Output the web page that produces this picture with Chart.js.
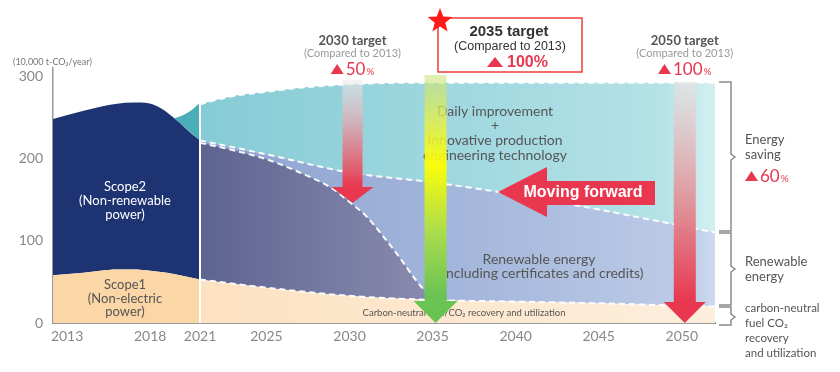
<!DOCTYPE html>
<html>
<head>
<meta charset="utf-8">
<script src="https://cdn.jsdelivr.net/npm/chart.js@4/dist/chart.umd.min.js"></script>
<style>
  html, body { margin: 0; padding: 0; background: #fff; }
</style>
</head>
<body>
<canvas id="chart" width="840" height="372"></canvas>
<script>
// ---------- DATA ----------
const xTicks = [2013, 2018, 2021, 2025, 2030, 2035, 2040, 2045, 2050];
const yTicks = [0, 100, 200, 300];

// actuals FY2013-2021 (first point sits on the axis start)
const pastYears = [2012.15, 2014, 2015, 2016, 2017, 2018, 2019, 2020, 2021];
const scope1 = [58, 61, 63.5, 65, 65, 63.5, 61, 57, 53];
const scope2Years = [2012.15, 2014, 2015, 2016, 2017, 2017.9, 2021];
const scope2 = [248, 258, 263, 266.5, 268, 267, 222];
const tealYears = [2019.3, 2020, 2020.5, 2021];
const tealEarly = [248, 253, 259, 268];

// roadmap 2021-2052
const futureYears = [2021, 2025, 2030, 2035, 2040, 2045, 2050, 2052];
const cnFuel = [53, 43, 33, 28, 26, 24, 21, 20];
const renewable = [222, 205, 183, 171, 156, 138, 118, 110];
const curveYears = [2021, 2023, 2025, 2027, 2029, 2030, 2031, 2032, 2033, 2034, 2035];
const remaining = [219, 210, 199, 183, 163, 147, 130, 106, 80, 52, 28];
const topYears = [2021, 2023, 2025, 2027, 2029, 2031, 2033, 2052];
const saving = [266, 276, 281, 286, 289, 291, 292, 292];

const targetYears = [2030, 2035, 2050];
const targetCuts = ['50', '100', '100'];

// ---------- HELPERS ----------
const GS = 'Lato, "Open Sans", sans-serif';
const AR = '"Liberation Sans", Arial, sans-serif';
const RED = '#e8374e';

function pts(xs, ys) {
  return xs.map((x, i) => ({ x: x, y: ys[i] }));
}

function hGrad(stops, fallback) {
  return (c) => {
    const chart = c.chart;
    if (!chart.chartArea || !chart.scales.x) return fallback;
    const sx = chart.scales.x;
    const g = chart.ctx.createLinearGradient(sx.getPixelForValue(2021), 0, sx.getPixelForValue(2052), 0);
    stops.forEach(s => g.addColorStop(s[0], s[1]));
    return g;
  };
}

function area(xs, ys, fill, bg, order, dashed) {
  return {
    data: pts(xs, ys),
    fill: fill,
    backgroundColor: bg,
    borderColor: dashed ? 'rgba(255,255,255,0.95)' : 'rgba(0,0,0,0)',
    borderWidth: dashed ? 2 : 0,
    borderDash: dashed ? [6, 4] : [],
    pointRadius: 0,
    cubicInterpolationMode: 'monotone',
    order: order
  };
}

// ---------- ANNOTATIONS ----------
function text(ctx, str, px, py, font, color, align) {
  ctx.font = font;
  ctx.fillStyle = color;
  ctx.textAlign = align || 'center';
  ctx.textBaseline = 'middle';
  ctx.fillText(str, px, py);
}

function triangle(ctx, left, cy, w, h, color) {
  ctx.fillStyle = color;
  ctx.beginPath();
  ctx.moveTo(left, cy + h / 2);
  ctx.lineTo(left + w / 2, cy - h / 2);
  ctx.lineTo(left + w, cy + h / 2);
  ctx.closePath();
  ctx.fill();
}

// "▲50%" style label, centred on cx (or left-aligned if left=true)
function cut(ctx, num, cx, cy, left) {
  ctx.font = '17px ' + GS;
  const wn = ctx.measureText(num).width;
  ctx.font = '10px ' + GS;
  const wp = ctx.measureText('%').width;
  const total = 13 + 2 + wn + 1 + wp;
  let x0 = left ? cx : cx - total / 2;
  triangle(ctx, x0, cy - 1, 13, 10, RED);
  text(ctx, num, x0 + 15, cy, '17px ' + GS, RED, 'left');
  text(ctx, '%', x0 + 16 + wn, cy + 2, '10px ' + GS, RED, 'left');
}

function vArrow(ctx, cx, yTop, yHead, yTip, shaftW, headW, stops, headColor) {
  const g = ctx.createLinearGradient(0, yTop, 0, yHead);
  stops.forEach(s => g.addColorStop(s[0], s[1]));
  ctx.fillStyle = g;
  ctx.fillRect(cx - shaftW / 2, yTop, shaftW, yHead - yTop);
  ctx.fillStyle = headColor;
  ctx.beginPath();
  ctx.moveTo(cx - headW / 2, yHead);
  ctx.lineTo(cx + headW / 2, yHead);
  ctx.lineTo(cx, yTip);
  ctx.closePath();
  ctx.fill();
}

function bracket(ctx, yTop, yBot, yMid) {
  const x0 = 719, xv = 731;
  ctx.strokeStyle = '#8a8a8a';
  ctx.lineWidth = 1.5;
  ctx.beginPath();
  ctx.moveTo(x0, yTop);
  ctx.lineTo(xv, yTop);
  ctx.lineTo(xv, yMid - 3);
  ctx.lineTo(xv + 4, yMid);
  ctx.lineTo(xv, yMid + 3);
  ctx.lineTo(xv, yBot);
  ctx.lineTo(x0, yBot);
  ctx.stroke();
}

function star(ctx, cx, cy, ro, ri, color) {
  ctx.fillStyle = color;
  ctx.beginPath();
  for (let i = 0; i < 10; i++) {
    const r = i % 2 === 0 ? ro : ri;
    const a = -Math.PI / 2 + i * Math.PI / 5;
    const px = cx + r * Math.cos(a), py = cy + r * Math.sin(a);
    if (i === 0) ctx.moveTo(px, py); else ctx.lineTo(px, py);
  }
  ctx.closePath();
  ctx.fill();
}

const annotations = {
  id: 'annotations',
  afterDatasetsDraw(chart) {
    const { ctx, scales: { x, y } } = chart;
    ctx.save();

    // unit label
    text(ctx, '(10,000 t-CO\u2082/year)', 13, 62, '9px ' + GS, '#777', 'left');

    // scope texts
    ['Scope2', '(Non-renewable', 'power)'].forEach((s, i) =>
      text(ctx, s, 125, 187 + i * 14, '13px ' + GS, '#fff'));
    ['Scope1', '(Non-electric', 'power)'].forEach((s, i) =>
      text(ctx, s, 125, 285 + i * 13.5, '13px ' + GS, '#555'));

    // region texts
    ['Daily improvement', '+', 'Innovative production', 'engineering technology'].forEach((s, i) =>
      text(ctx, s, 495, 111 + i * 14.7, '14px ' + GS, '#555'));
    text(ctx, 'Renewable energy', 539, 259, '14px ' + GS, '#555');
    text(ctx, '(Including certificates and credits)', 541, 273, '14px ' + GS, '#555');
    text(ctx, 'Carbon-neutral fuel/CO\u2082 recovery and utilization', 464, 313, '9.5px ' + GS, '#555');

    // target arrows
    const xa = targetYears.map(v => x.getPixelForValue(v) + 3);
    const y0 = y.getPixelForValue(0);
    vArrow(ctx, xa[0], 80, 187, 203, 20, 42,
      [[0, 'rgba(235,235,235,0.55)'], [0.5, 'rgba(222,150,160,0.85)'], [1, RED]], RED);
    vArrow(ctx, xa[1], 75, y0 - 22, y0, 22, 44,
      [[0, 'rgba(200,225,120,0.55)'], [0.18, 'rgba(225,238,80,0.8)'], [0.4, 'rgba(255,255,0,0.95)'],
       [0.7, 'rgba(170,222,70,0.95)'], [1, 'rgba(98,194,77,0.95)']], 'rgba(98,194,77,0.95)');
    vArrow(ctx, xa[2], 82, y0 - 21, y0, 22, 42,
      [[0, 'rgba(228,228,228,0.7)'], [0.5, 'rgba(226,150,155,0.9)'], [1, RED]], RED);

    // moving forward arrow
    ctx.fillStyle = '#e9374f';
    ctx.beginPath();
    ctx.moveTo(498, 192);
    ctx.lineTo(547, 167);
    ctx.lineTo(547, 181);
    ctx.lineTo(655, 181);
    ctx.lineTo(655, 205);
    ctx.lineTo(547, 205);
    ctx.lineTo(547, 217);
    ctx.closePath();
    ctx.fill();
    text(ctx, 'Moving forward', 583, 193, 'bold 16px ' + AR, '#fff');

    // 2030 / 2050 targets
    [0, 2].forEach(i => {
      text(ctx, targetYears[i] + ' target', xa[i], 41, 'bold 13px ' + GS, '#555');
      text(ctx, '(Compared to 2013)', xa[i], 53, '11px ' + GS, '#999');
      cut(ctx, targetCuts[i], xa[i], 70);
    });

    // 2035 target box
    ctx.strokeStyle = '#f03c3c';
    ctx.lineWidth = 1.5;
    ctx.strokeRect(438, 18, 144, 54);
    text(ctx, targetYears[1] + ' target', 509, 32, 'bold 15px ' + AR, '#333');
    text(ctx, '(Compared to 2013)', 510, 47, '12.5px ' + AR, '#333');
    triangle(ctx, 487, 62, 16, 10, RED);
    text(ctx, targetCuts[1] + '%', 507, 63, 'bold 16px ' + AR, RED, 'left');
    star(ctx, 440, 21, 13, 5.5, '#ff1a1a');

    // right-hand brackets
    bracket(ctx, 82, 231, 157);
    bracket(ctx, 233, 305, 269);
    bracket(ctx, 307, 325, 317);
    text(ctx, 'Energy', 745, 140, '13px ' + GS, '#555', 'left');
    text(ctx, 'saving', 745, 155, '13px ' + GS, '#555', 'left');
    cut(ctx, '60', 745, 177, true);
    text(ctx, 'Renewable', 745, 262, '13px ' + GS, '#555', 'left');
    text(ctx, 'energy', 745, 277, '13px ' + GS, '#555', 'left');
    ['carbon-neutral', 'fuel CO\u2082', 'recovery', 'and utilization'].forEach((s, i) =>
      text(ctx, s, 745, 308 + i * 15, '11.5px ' + GS, '#555', 'left'));

    ctx.restore();
  }
};

// ---------- CHART ----------
new Chart(document.getElementById('chart').getContext('2d'), {
  type: 'line',
  data: {
    datasets: [
      area(pastYears, scope1, 'origin', '#fbd6a6', 0, false),
      area(scope2Years, scope2, 0, '#1d3372', 1, false),
      area(tealYears, tealEarly, 1, '#4aaeba', 2, false),
      area(futureYears, cnFuel, 'origin',
        hGrad([[0, '#fde2c2'], [1, '#fdeedd']], '#fde6c8'), 3, true),
      area(futureYears, renewable, 3,
        hGrad([[0, '#8ca2cf'], [0.5, '#a3b6db'], [0.95, '#bccbe6'], [1, '#cfdaee']], '#a3b6db'), 5, true),
      area(curveYears, remaining, 3,
        hGrad([[0, '#5d6490'], [0.45, '#8a8cae'], [1, '#a0a2bf']], '#6d7298'), 4, true),
      area(topYears, saving, 4,
        hGrad([[0, '#86cbd5'], [0.9, '#b4e2e7'], [0.95, '#c6eaee'], [1, '#d2eff1']], '#9fd6de'), 6, true),
      {
        data: [{ x: 2021, y: 0 }, { x: 2021, y: 272 }],
        fill: false,
        borderColor: '#ffffff',
        borderWidth: 2,
        pointRadius: 0,
        order: -1
      }
    ]
  },
  options: {
    responsive: false,
    animation: false,
    layout: { padding: { top: 68, right: 125, left: 0, bottom: 0 } },
    plugins: {
      legend: { display: false },
      tooltip: { enabled: false },
      filler: { drawTime: 'beforeDatasetsDraw' }
    },
    scales: {
      x: {
        type: 'linear',
        min: 2012.15,
        max: 2052,
        afterBuildTicks: s => { s.ticks = xTicks.map(v => ({ value: v })); },
        afterFit: s => { s.height = 49; },
        ticks: {
          autoSkip: false,
          maxRotation: 0,
          padding: 5,
          color: '#888',
          font: { family: 'Lato', size: 14 },
          callback: v => String(v)
        },
        grid: { display: false, drawTicks: false },
        border: { color: '#999', width: 2 }
      },
      y: {
        min: 0,
        max: 310,
        afterBuildTicks: s => { s.ticks = yTicks.map(v => ({ value: v })); },
        afterFit: s => { s.width = 53; },
        ticks: {
          padding: 10,
          color: '#888',
          font: { family: 'Lato', size: 14 },
          callback: v => String(v)
        },
        grid: { display: false, drawTicks: false },
        border: { color: '#999', width: 1.5 }
      }
    }
  },
  plugins: [annotations]
});
</script>
</body>
</html>
